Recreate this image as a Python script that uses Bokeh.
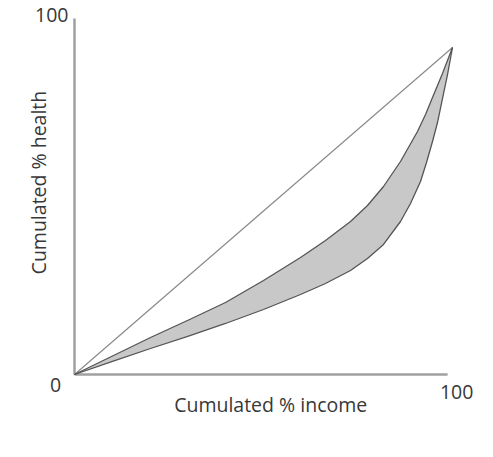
import math
from bokeh.plotting import figure
from bokeh.models import Range1d, Label
from bokeh.embed import file_html
from bokeh.resources import INLINE

# Cumulated % income (x) vs cumulated % health (y)
diag_x = [0, 100]
diag_y = [0, 100]

upper_x = [0, 10.05, 20.11, 30.16, 39.95, 50.0, 59.79, 66.4, 73.02, 77.51,
           81.75, 86.24, 90.74, 92.86, 94.71, 97.35, 100]
upper_y = [0, 5.66, 11.31, 16.67, 22.02, 28.75, 35.78, 40.98, 46.79, 51.68,
           57.49, 65.14, 74.31, 79.51, 84.71, 92.05, 100]

lower_x = [0, 10.05, 20.11, 30.16, 39.95, 50.0, 59.79, 66.4, 73.02, 77.51,
           81.75, 86.24, 88.89, 91.53, 93.12, 94.71, 96.03, 97.35, 98.68, 100]
lower_y = [0, 3.98, 7.95, 11.77, 15.60, 19.88, 24.46, 27.83, 31.80, 35.47,
           39.76, 46.79, 52.29, 59.02, 64.83, 71.25, 77.06, 84.40, 91.74, 100]

# axis extents (data units)
x_axis_end = 98.7
y_axis_end = 108.9

tick_labels = ["0", "100", "100"]
x_title = "Cumulated % income"
y_title = "Cumulated % health"

W, H = 477, 441
p = figure(width=W, height=H, output_backend="svg", toolbar_location=None,
           x_range=Range1d(-74 / 3.78, (W - 74) / 3.78),
           y_range=Range1d(-(H - 374) / 3.27, 374 / 3.27),
           x_axis_location=None, y_axis_location=None,
           min_border=0, outline_line_color=None)
p.grid.visible = False
p.background_fill_color = "white"
p.border_fill_color = "white"

# shaded band between the two concentration curves
band_x = upper_x + lower_x[::-1]
band_y = upper_y + lower_y[::-1]
p.patch(band_x, band_y, fill_color="#c8c8c8", line_color=None)

# axes
p.line([0, 0], [0, y_axis_end], line_color="#a0a0a0", line_width=2.5)
p.line([0, x_axis_end], [0, 0], line_color="#a0a0a0", line_width=2.5)

# equality diagonal
p.line(diag_x, diag_y, line_color="#8a8a8a", line_width=1.2)

# curves
p.line(upper_x, upper_y, line_color="#555555", line_width=1.3, line_join="round")
p.line(lower_x, lower_y, line_color="#555555", line_width=1.3, line_join="round")

txt = dict(text_font="Open Sans", text_color="#383838")
fs = "19.5px"
p.add_layout(Label(x=-1.6, y=109.8, text=tick_labels[1], text_align="right",
                   text_baseline="middle", text_font_size=fs, **txt))
p.add_layout(Label(x=-5.0, y=-3.1, text=tick_labels[0], text_align="center",
                   text_baseline="middle", text_font_size=fs, **txt))
p.add_layout(Label(x=101.1, y=-5.2, text=tick_labels[2], text_align="center",
                   text_baseline="middle", text_font_size=fs, **txt))
p.add_layout(Label(x=51.9, y=-9.2, text=x_title, text_align="center",
                   text_baseline="middle", text_font_size=fs, **txt))
p.add_layout(Label(x=-9.5, y=58.7, text=y_title, text_align="center",
                   text_baseline="middle", text_font_size=fs,
                   angle=math.pi / 2, **txt))

open("out.html", "w").write(file_html(p, INLINE))
